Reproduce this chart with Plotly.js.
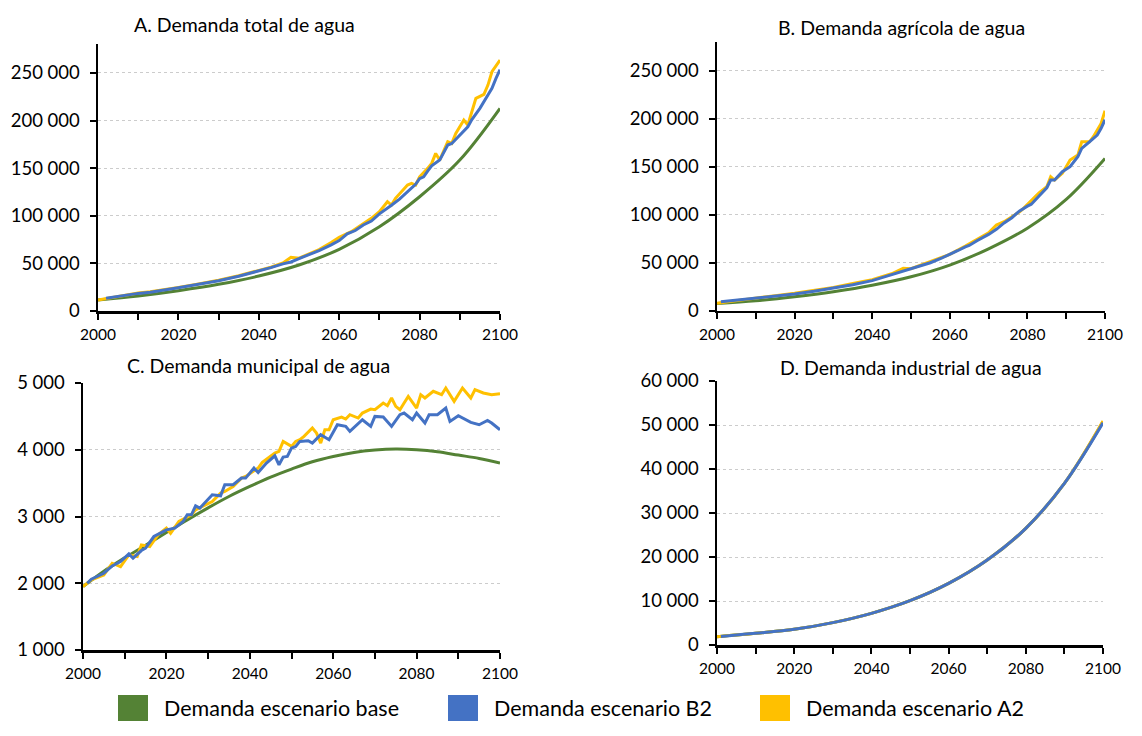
<!DOCTYPE html>
<html>
<head>
<meta charset="utf-8">
<script src="https://cdn.plot.ly/plotly-3.0.1.min.js"></script>
<style>
html,body{margin:0;padding:0;background:#fff;}
#chart{width:1142px;height:736px;}
</style>
</head>
<body>
<div id="chart"></div>
<script>
// ---------- Data ----------
// Panel titles
const panelTitles = ["A. Demanda total de agua", "B. Demanda agrícola de agua",
                     "C. Demanda municipal de agua", "D. Demanda industrial de agua"];
const seriesNames = ["Demanda escenario base", "Demanda escenario B2", "Demanda escenario A2"];

// A. Total demand
const yearsA_base = [2000,2010,2020,2030,2040,2050,2060,2070,2080,2090,2100];
const A_base = [11500,15750,21300,28000,36750,48300,64800,88500,120000,158500,212800];
const yearsA_B2 = [2002,2005,2008,2010,2013,2016,2020,2025,2030,2035,2040,2043,2046,2048,2050,2053,2055,2058,2060,2062,2064,2066,2068,2070,2072,2073,2075,2077,2079,2080,2081,2082,2083,2085,2086,2087,2088,2090,2091,2092,2093,2095,2097,2098,2099,2100];
const A_B2 = [13500,15500,17300,18500,19800,21500,24500,28000,31800,36500,42000,45500,49500,51500,55000,60000,63500,69500,74000,81000,84500,90300,94500,102000,107800,111000,117500,125300,133000,139000,141000,147000,152500,158500,166000,174300,176000,184500,189500,193500,201000,212800,226800,233800,244300,253500];
const yearsA_A2 = [2000,2002,2005,2008,2010,2013,2016,2020,2025,2030,2035,2040,2043,2046,2048,2050,2053,2055,2058,2060,2063,2066,2068,2070,2072,2073,2074,2077,2078,2079,2080,2082,2083,2084,2085,2087,2088,2089,2091,2092,2093,2094,2096,2097,2098,2100];
const A_A2 = [11500,13000,15300,17500,18800,20200,22000,24800,28500,32300,37000,42500,46000,50500,56500,55500,60800,64500,72000,77500,83300,92000,97300,104300,114800,111300,118300,132300,134000,132300,141000,149800,155000,165500,158500,177800,176000,186500,200500,195300,209300,223300,227500,237300,251300,263500];

// B. Agricultural demand
const yearsB_base = [2000,2010,2020,2030,2040,2050,2060,2070,2080,2090,2100];
const B_base = [7600,10400,14600,19800,26500,35300,47500,64500,86000,116000,158700];
const yearsB_B2 = [2001,2005,2010,2015,2020,2025,2030,2035,2040,2043,2045,2048,2050,2053,2055,2058,2060,2062,2064,2065,2067,2070,2072,2074,2076,2078,2080,2081,2083,2085,2086,2087,2089,2091,2093,2094,2096,2098,2099,2100];
const B_B2 = [9400,11000,12900,15000,17400,20200,23300,27000,31300,35000,37500,41000,43500,47500,50000,55000,58500,62500,66500,68000,72900,79500,84800,91500,96900,104000,109000,111000,119500,128100,136200,136200,144800,150000,160400,169100,176000,183000,190000,199000];
const yearsB_A2 = [2000,2005,2010,2015,2020,2025,2030,2035,2037,2040,2045,2047,2048,2050,2053,2055,2060,2064,2067,2070,2072,2074,2076,2078,2079,2081,2083,2085,2086,2087,2089,2091,2093,2094,2096,2097,2099,2100];
const B_A2 = [7700,10500,13500,15700,18100,21000,24300,28300,29600,32300,38500,42400,44100,43800,48500,51000,58700,67400,74300,81200,89300,92700,98000,103100,106600,115300,122900,129200,139600,136100,143100,157000,162200,176000,176000,181300,195200,208300];

// C. Municipal demand
const yearsC_base = [2000,2005,2010,2015,2020,2025,2030,2035,2040,2045,2050,2055,2060,2065,2070,2075,2080,2085,2090,2095,2100];
const C_base = [1950,2180,2380,2570,2760,2950,3130,3300,3450,3590,3710,3820,3900,3960,3995,4010,4000,3970,3920,3870,3800];
const yearsC_B2 = [2001,2002,2003,2005,2007,2009,2011,2012,2014,2015,2017,2019,2020,2022,2024,2025,2026,2027,2028,2031,2033,2034,2036,2038,2039,2041,2042,2044,2046,2047,2048,2049,2050,2051,2052,2054,2055,2057,2059,2061,2063,2064,2067,2069,2070,2072,2074,2076,2077,2079,2080,2082,2083,2085,2087,2088,2090,2093,2095,2097,2098,2100];
const C_B2 = [2000,2060,2090,2150,2260,2325,2440,2375,2490,2525,2700,2760,2800,2825,2925,3025,3025,3160,3125,3325,3310,3475,3475,3575,3575,3725,3660,3800,3910,3775,3890,3900,4025,4050,4125,4135,4100,4225,4150,4375,4350,4275,4450,4350,4500,4490,4350,4525,4550,4450,4550,4400,4525,4525,4625,4425,4510,4410,4375,4440,4400,4300];
const yearsC_A2 = [2000,2002,2005,2007,2009,2011,2013,2014,2016,2018,2020,2021,2023,2026,2027,2030,2031,2033,2034,2036,2038,2039,2042,2043,2046,2047,2048,2050,2051,2052,2053,2055,2056,2057,2058,2059,2060,2062,2063,2064,2066,2067,2069,2070,2072,2073,2074,2075,2076,2077,2078,2080,2081,2082,2084,2086,2087,2089,2091,2093,2094,2096,2098,2100];
const C_A2 = [1950,2050,2125,2300,2250,2425,2400,2575,2550,2725,2825,2750,2925,3025,3100,3200,3225,3350,3375,3450,3575,3600,3725,3810,3950,3975,4125,4050,4125,4150,4200,4325,4250,4100,4300,4300,4450,4490,4460,4525,4475,4550,4610,4600,4700,4660,4775,4650,4600,4700,4800,4625,4825,4775,4875,4825,4925,4725,4925,4775,4900,4850,4825,4840];

// D. Industrial demand
const yearsD_base = [2000,2010,2020,2030,2040,2050,2060,2070,2080,2090,2100];
const D_base = [1900,2650,3560,5080,7200,10080,14010,19320,26520,36740,50760];
const yearsD_B2 = [2001,2010,2020,2030,2040,2050,2060,2070,2080,2090,2100];
const D_B2 = [1950,2650,3560,5080,7200,10080,14010,19320,26520,36740,50500];
const yearsD_A2 = [2000,2010,2020,2030,2040,2050,2060,2070,2080,2090,2100];
const D_A2 = [1900,2650,3560,5080,7200,10080,14010,19320,26520,36740,50900];

// ---------- Styling ----------
const COLORS = {base:"#548235", B2:"#4472C4", A2:"#FFC000"};
const FONT = "Lato, 'Open Sans', sans-serif";
const W = 1142, H = 736;
const fx = p => p / W;
const fy = p => 1 - p / H;

function lineTrace(x, y, color, xa, ya, name, smooth) {
  return {
    x: x, y: y, type: "scatter", mode: "lines", name: name,
    xaxis: xa, yaxis: ya, showlegend: false, hoverinfo: "x+y",
    line: {color: color, width: 3, shape: smooth ? "spline" : "linear"}
  };
}

const panels = [
  {xa:"x",  ya:"y",  smooth:false, d:[yearsA_base,A_base,yearsA_A2,A_A2,yearsA_B2,A_B2]},
  {xa:"x2", ya:"y2", smooth:false, d:[yearsB_base,B_base,yearsB_A2,B_A2,yearsB_B2,B_B2]},
  {xa:"x3", ya:"y3", smooth:false, d:[yearsC_base,C_base,yearsC_A2,C_A2,yearsC_B2,C_B2]},
  {xa:"x4", ya:"y4", smooth:true,  d:[yearsD_base,D_base,yearsD_A2,D_A2,yearsD_B2,D_B2]}
];
const traces = [];
panels.forEach(p => {
  traces.push(lineTrace(p.d[0], p.d[1], COLORS.base, p.xa, p.ya, seriesNames[0], true));
  traces.push(lineTrace(p.d[2], p.d[3], COLORS.A2, p.xa, p.ya, seriesNames[2], p.smooth));
  traces.push(lineTrace(p.d[4], p.d[5], COLORS.B2, p.xa, p.ya, seriesNames[1], p.smooth));
});

function xAxis(left, right, anchor) {
  return {
    domain:[fx(left), fx(right)], anchor: anchor, range:[2000, 2100],
    tick0: 2000, dtick: 20, ticks: "outside", ticklen: 6, tickwidth: 2, tickcolor: "#000",
    minor: {dtick: 10, tick0: 2000, ticks: "outside", ticklen: 6, tickwidth: 2, tickcolor: "#000", showgrid: false},
    showline: true, linecolor: "#000", linewidth: 2.5, showgrid: false, zeroline: false,
    tickfont: {family: FONT, size: 15.5, color: "#000"}, ticklabelstandoff: 2, fixedrange: true
  };
}
function yAxis(top, bottom, range, dtick, anchor) {
  return {
    domain:[fy(bottom), fy(top)], anchor: anchor, range: range, dtick: dtick,
    tickformat: ",d", ticks: "outside", ticklen: 6, tickwidth: 2, tickcolor: "#000",
    showline: true, linecolor: "#000", linewidth: 2.5, zeroline: false,
    showgrid: true, gridcolor: "#cccccc", griddash: "dot", gridwidth: 1,
    tickfont: {family: FONT, size: 18.5, color: "#000"}, ticklabelstandoff: 6, fixedrange: true
  };
}

const titlePos = [[244, 25], [901, 27], [258, 365], [911, 367]];
const annotations = panelTitles.map((t, i) => ({
  text: t, xref: "paper", yref: "paper", x: fx(titlePos[i][0]), y: fy(titlePos[i][1]),
  xanchor: "center", yanchor: "middle", showarrow: false,
  font: {family: FONT, size: 19.5, color: "#000"}
}));

// Legend (drawn as swatches + labels)
const legendColors = [COLORS.base, COLORS.B2, COLORS.A2];
const legendX = [118, 448, 760];
const shapes = [];
legendColors.forEach((c, i) => {
  shapes.push({type: "rect", xref: "paper", yref: "paper",
    x0: fx(legendX[i]), x1: fx(legendX[i] + 30), y0: fy(721), y1: fy(695),
    fillcolor: c, line: {width: 0}});
  annotations.push({text: seriesNames[i], xref: "paper", yref: "paper",
    x: fx(legendX[i] + 44), y: fy(708), xanchor: "left", yanchor: "middle", showarrow: false,
    font: {family: FONT, size: 21.5, color: "#000"}});
});

const layout = {
  width: W, height: H, margin: {l:0, r:0, t:0, b:0},
  paper_bgcolor: "#fff", plot_bgcolor: "#fff",
  separators: ", ", showlegend: false,
  font: {family: FONT, color: "#000"},
  xaxis: xAxis(98, 500, "y"),
  yaxis: yAxis(44.4, 311, [0, 280000], 50000, "x"),
  xaxis2: xAxis(717, 1105, "y2"),
  yaxis2: yAxis(42, 310.7, [0, 280000], 50000, "x2"),
  xaxis3: xAxis(83, 500, "y3"),
  yaxis3: yAxis(383, 650, [1000, 5000], 1000, "x3"),
  xaxis4: xAxis(717, 1103, "y4"),
  yaxis4: yAxis(381, 645, [0, 60000], 10000, "x4"),
  annotations: annotations, shapes: shapes
};

Plotly.newPlot("chart", traces, layout, {displayModeBar: false, staticPlot: true});
</script>
</body>
</html>
